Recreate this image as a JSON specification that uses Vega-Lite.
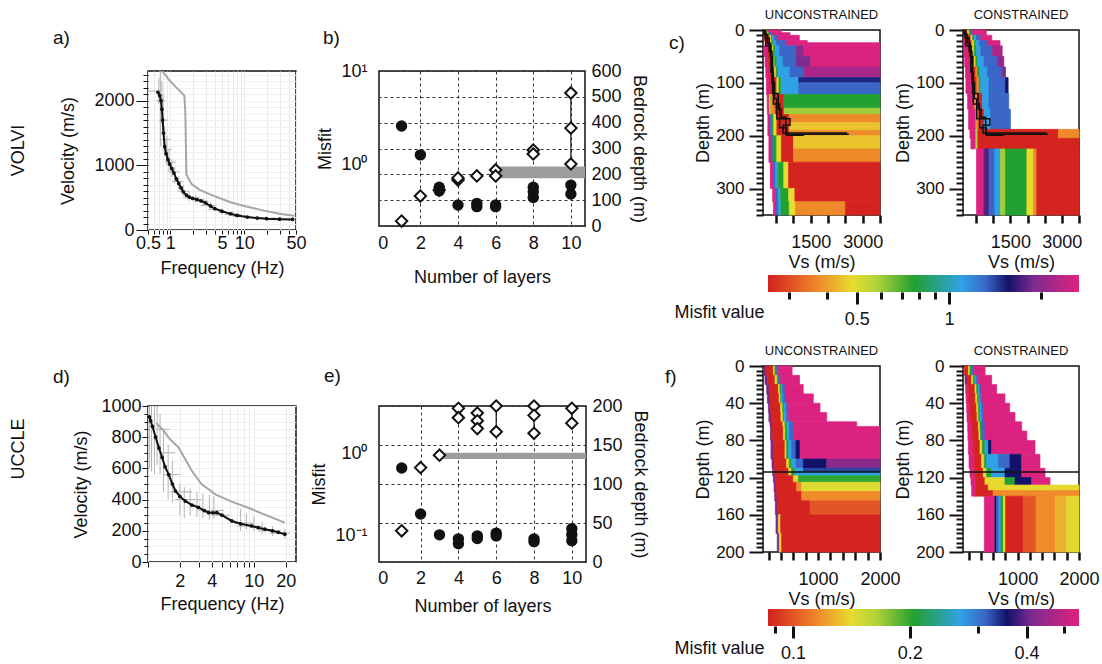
{
"$schema":"https://vega.github.io/schema/vega-lite/v6.json",
"padding":{"left":10,"top":8,"right":0,"bottom":0},
"config":{"font":"Liberation Sans","view":{"stroke":null},
"axis":{"labelFontSize":18,"titleFontSize":18,"titleFontWeight":"normal","labelColor":"#111","titleColor":"#111","tickColor":"#111","domainColor":"#111","labelFlush":false,"labelOverlap":false,"labelBound":false,"grid":false,"tickCount":200},
"title":{"fontSize":19,"fontWeight":"normal","color":"#111"}},
"datasets":{
"aB":[{"f":0.68,"v":2130},{"f":0.72,"v":2080},{"f":0.75,"v":2000},{"f":0.77,"v":1870},{"f":0.79,"v":1700},{"f":0.81,"v":1500},{"f":0.84,"v":1290},{"f":0.88,"v":1180},{"f":0.93,"v":1090},{"f":0.98,"v":1020},{"f":1.05,"v":950},{"f":1.12,"v":880},{"f":1.21,"v":790},{"f":1.3,"v":720},{"f":1.4,"v":650},{"f":1.5,"v":590},{"f":1.65,"v":540},{"f":1.8,"v":510},{"f":2.0,"v":490},{"f":2.3,"v":470},{"f":2.6,"v":450},{"f":3.0,"v":420},{"f":3.5,"v":370},{"f":4.0,"v":330},{"f":5.0,"v":290},{"f":6.5,"v":250},{"f":8.0,"v":225},{"f":11,"v":200},{"f":15,"v":185},{"f":20,"v":175},{"f":30,"v":168},{"f":45,"v":163}],
"aG":[{"f":0.78,"v":2460},{"f":0.98,"v":2310},{"f":1.27,"v":2180},{"f":1.55,"v":2080},{"f":1.6,"v":1790},{"f":1.65,"v":860},{"f":1.94,"v":710},{"f":2.5,"v":620},{"f":3.85,"v":527},{"f":6.5,"v":430},{"f":10,"v":370},{"f":18.6,"v":300},{"f":30,"v":250},{"f":47.6,"v":220}],
"aEV":[{"f":0.7,"lo":1950,"hi":2350},{"f":0.74,"lo":1300,"hi":2460},{"f":0.77,"lo":1650,"hi":2300},{"f":0.8,"lo":1500,"hi":2100},{"f":0.84,"lo":1150,"hi":1600},{"f":0.9,"lo":1000,"hi":1450},{"f":0.96,"lo":900,"hi":1250},{"f":1.05,"lo":820,"hi":1100},{"f":1.15,"lo":720,"hi":980},{"f":1.3,"lo":630,"hi":830},{"f":1.5,"lo":520,"hi":700},{"f":1.8,"lo":450,"hi":600},{"f":2.2,"lo":420,"hi":540},{"f":2.8,"lo":380,"hi":490},{"f":3.5,"lo":320,"hi":430},{"f":5,"lo":260,"hi":330},{"f":7,"lo":220,"hi":290},{"f":10,"lo":180,"hi":230},{"f":15,"lo":160,"hi":215},{"f":25,"lo":150,"hi":200},{"f":40,"lo":140,"hi":190}],
"aEH":[{"v":2150,"lo":0.5,"hi":0.72},{"v":2000,"lo":0.65,"hi":0.86},{"v":1700,"lo":0.7,"hi":0.95},{"v":1400,"lo":0.74,"hi":1.0},{"v":1250,"lo":0.78,"hi":1.05},{"v":1050,"lo":0.85,"hi":1.2},{"v":900,"lo":0.95,"hi":1.35},{"v":750,"lo":1.05,"hi":1.5},{"v":600,"lo":1.25,"hi":1.8},{"v":500,"lo":1.5,"hi":2.5},{"v":450,"lo":2,"hi":3.3},{"v":380,"lo":2.6,"hi":4.2},{"v":320,"lo":3.2,"hi":5},{"v":270,"lo":4.5,"hi":7},{"v":240,"lo":5.5,"hi":9},{"v":210,"lo":7,"hi":12},{"v":190,"lo":10,"hi":18},{"v":175,"lo":14,"hi":25},{"v":165,"lo":20,"hi":40}],
"dB":[{"f":1.03,"v":930},{"f":1.06,"v":905},{"f":1.1,"v":870},{"f":1.18,"v":800},{"f":1.27,"v":730},{"f":1.36,"v":670},{"f":1.45,"v":610},{"f":1.57,"v":560},{"f":1.7,"v":500},{"f":1.82,"v":455},{"f":2.0,"v":420},{"f":2.26,"v":390},{"f":2.6,"v":365},{"f":3.0,"v":350},{"f":3.4,"v":330},{"f":3.73,"v":316},{"f":4.1,"v":315},{"f":4.47,"v":316},{"f":5.0,"v":300},{"f":6.18,"v":263},{"f":7.5,"v":245},{"f":9.5,"v":231},{"f":11,"v":220},{"f":12.7,"v":210},{"f":15,"v":200},{"f":17,"v":190},{"f":19.6,"v":178}],
"dG":[{"f":1.2,"v":890},{"f":1.41,"v":840},{"f":1.6,"v":790},{"f":1.95,"v":733},{"f":2.6,"v":583},{"f":3.2,"v":500},{"f":4.32,"v":434},{"f":6.0,"v":390},{"f":8.84,"v":348},{"f":13,"v":300},{"f":19.6,"v":252}],
"dEV":[{"f":1.03,"lo":600,"hi":1000},{"f":1.08,"lo":580,"hi":1000},{"f":1.15,"lo":560,"hi":1000},{"f":1.22,"lo":620,"hi":1000},{"f":1.3,"lo":560,"hi":950},{"f":1.4,"lo":450,"hi":850},{"f":1.55,"lo":400,"hi":750},{"f":1.7,"lo":380,"hi":650},{"f":2.0,"lo":300,"hi":500},{"f":2.2,"lo":280,"hi":480},{"f":2.5,"lo":300,"hi":470},{"f":2.9,"lo":290,"hi":450},{"f":3.3,"lo":280,"hi":440},{"f":3.8,"lo":270,"hi":430},{"f":4.2,"lo":280,"hi":420},{"f":7.5,"lo":200,"hi":340},{"f":8.5,"lo":210,"hi":310},{"f":10,"lo":200,"hi":290},{"f":12,"lo":180,"hi":260},{"f":15,"lo":165,"hi":230},{"f":19.6,"lo":150,"hi":210}],
"dEH":[{"v":850,"lo":1.2,"hi":1.6},{"v":700,"lo":1.3,"hi":1.8},{"v":560,"lo":1.4,"hi":2.0},{"v":450,"lo":1.6,"hi":2.6},{"v":400,"lo":1.8,"hi":3.2},{"v":330,"lo":3,"hi":5.2},{"v":300,"lo":4,"hi":6},{"v":250,"lo":6.5,"hi":10},{"v":230,"lo":7,"hi":12},{"v":200,"lo":11,"hi":18},{"v":185,"lo":14,"hi":22}],
"bCirc":[{"n":1,"m":2.6},{"n":2,"m":1.28},{"n":3,"m":0.58},{"n":3,"m":0.53},{"n":4,"m":0.375},{"n":5,"m":0.39},{"n":5,"m":0.36},{"n":6,"m":0.375},{"n":6,"m":0.36},{"n":8,"m":0.58},{"n":8,"m":0.52},{"n":8,"m":0.45},{"n":10,"m":0.61},{"n":10,"m":0.49}],
"bDiam":[{"n":1,"z":19},{"n":2,"z":116},{"n":3,"z":139},{"n":4,"z":178},{"n":4,"z":186},{"n":5,"z":194},{"n":6,"z":217},{"n":6,"z":194},{"n":8,"z":294},{"n":8,"z":279},{"n":10,"z":515},{"n":10,"z":379},{"n":10,"z":240}],
"bRule":[{"n":10,"lo":240,"hi":515},{"n":8,"lo":279,"hi":294},{"n":6,"lo":194,"hi":217},{"n":4,"lo":178,"hi":186}],
"bBand":[{"x0":6,"x1":10.75,"z0":185,"z1":230}],
"eCirc":[{"n":1,"m":0.674},{"n":2,"m":0.185},{"n":3,"m":0.103},{"n":4,"m":0.092},{"n":4,"m":0.08},{"n":5,"m":0.1},{"n":5,"m":0.093},{"n":6,"m":0.108},{"n":6,"m":0.1},{"n":8,"m":0.092},{"n":8,"m":0.085},{"n":10,"m":0.122},{"n":10,"m":0.104},{"n":10,"m":0.087}],
"eDiam":[{"n":1,"z":40},{"n":2,"z":121},{"n":3,"z":137},{"n":4,"z":197},{"n":4,"z":185},{"n":5,"z":191},{"n":5,"z":181},{"n":5,"z":171},{"n":6,"z":200},{"n":6,"z":167},{"n":8,"z":200},{"n":8,"z":188},{"n":8,"z":165},{"n":10,"z":197},{"n":10,"z":178}],
"eRule":[{"n":4,"lo":185,"hi":197},{"n":5,"lo":171,"hi":191},{"n":6,"lo":167,"hi":200},{"n":8,"lo":165,"hi":200},{"n":10,"lo":178,"hi":197}],
"eBand":[{"x0":3,"x1":10.75,"z0":132,"z1":140}],
"ref":[{"g":1,"i":0,"v":150,"d":0},{"g":1,"i":1,"v":150,"d":8},{"g":1,"i":2,"v":250,"d":8},{"g":1,"i":3,"v":250,"d":25},{"g":1,"i":4,"v":330,"d":25},{"g":1,"i":5,"v":330,"d":50},{"g":1,"i":6,"v":400,"d":50},{"g":1,"i":7,"v":400,"d":120},{"g":1,"i":8,"v":560,"d":120},{"g":1,"i":9,"v":560,"d":150},{"g":1,"i":10,"v":650,"d":150},{"g":1,"i":11,"v":650,"d":165},{"g":1,"i":12,"v":780,"d":165},{"g":1,"i":13,"v":780,"d":197},{"g":1,"i":14,"v":2600,"d":197},
{"g":2,"i":0,"v":180,"d":0},{"g":2,"i":1,"v":180,"d":15},{"g":2,"i":2,"v":300,"d":15},{"g":2,"i":3,"v":300,"d":40},{"g":2,"i":4,"v":380,"d":40},{"g":2,"i":5,"v":380,"d":100},{"g":2,"i":6,"v":450,"d":100},{"g":2,"i":7,"v":450,"d":130},{"g":2,"i":8,"v":520,"d":130},{"g":2,"i":9,"v":520,"d":168},{"g":2,"i":10,"v":900,"d":168},{"g":2,"i":11,"v":900,"d":180},{"g":2,"i":12,"v":700,"d":180},{"g":2,"i":13,"v":700,"d":195},{"g":2,"i":14,"v":2550,"d":195},
{"g":3,"i":0,"v":200,"d":0},{"g":3,"i":1,"v":200,"d":30},{"g":3,"i":2,"v":350,"d":30},{"g":3,"i":3,"v":350,"d":80},{"g":3,"i":4,"v":420,"d":80},{"g":3,"i":5,"v":420,"d":140},{"g":3,"i":6,"v":600,"d":140},{"g":3,"i":7,"v":600,"d":185},{"g":3,"i":8,"v":800,"d":185},{"g":3,"i":9,"v":800,"d":199},{"g":3,"i":10,"v":1300,"d":199}],
"cU":[
{"v0":130,"v1":200,"d0":0,"d1":5,"m":0.26},{"v0":200,"v1":240,"d0":0,"d1":5,"m":0.486},{"v0":240,"v1":280,"d0":0,"d1":5,"m":0.77},{"v0":280,"v1":650,"d0":0,"d1":5,"m":2.6},
{"v0":140,"v1":230,"d0":5,"d1":10,"m":0.26},{"v0":230,"v1":270,"d0":5,"d1":10,"m":0.486},{"v0":270,"v1":320,"d0":5,"d1":10,"m":0.77},{"v0":320,"v1":380,"d0":5,"d1":10,"m":1.32},{"v0":380,"v1":900,"d0":5,"d1":10,"m":2.6},
{"v0":160,"v1":300,"d0":10,"d1":20,"m":0.26},{"v0":300,"v1":330,"d0":10,"d1":20,"m":0.374},{"v0":330,"v1":360,"d0":10,"d1":20,"m":0.486},{"v0":360,"v1":400,"d0":10,"d1":20,"m":0.77},{"v0":400,"v1":450,"d0":10,"d1":20,"m":1.1},{"v0":450,"v1":550,"d0":10,"d1":20,"m":1.32},{"v0":550,"v1":1170,"d0":10,"d1":20,"m":2.6},
{"v0":180,"v1":330,"d0":20,"d1":30,"m":0.26},{"v0":330,"v1":370,"d0":20,"d1":30,"m":0.486},{"v0":370,"v1":420,"d0":20,"d1":30,"m":0.77},{"v0":420,"v1":500,"d0":20,"d1":30,"m":1.1},{"v0":500,"v1":800,"d0":20,"d1":30,"m":1.32},{"v0":800,"v1":1400,"d0":20,"d1":24,"m":2.6},{"v0":800,"v1":3500,"d0":24,"d1":30,"m":2.6},
{"v0":150,"v1":250,"d0":30,"d1":50,"m":2.6},{"v0":250,"v1":380,"d0":30,"d1":50,"m":0.26},{"v0":380,"v1":420,"d0":30,"d1":50,"m":0.486},{"v0":420,"v1":470,"d0":30,"d1":50,"m":0.77},{"v0":470,"v1":600,"d0":30,"d1":50,"m":1.1},{"v0":600,"v1":1080,"d0":30,"d1":50,"m":1.32},{"v0":1080,"v1":1300,"d0":30,"d1":50,"m":2.0},{"v0":1300,"v1":3500,"d0":30,"d1":50,"m":2.6},
{"v0":180,"v1":280,"d0":50,"d1":70,"m":2.6},{"v0":280,"v1":420,"d0":50,"d1":70,"m":0.26},{"v0":420,"v1":460,"d0":50,"d1":70,"m":0.486},{"v0":460,"v1":520,"d0":50,"d1":70,"m":0.77},{"v0":520,"v1":700,"d0":50,"d1":70,"m":1.1},{"v0":700,"v1":1080,"d0":50,"d1":70,"m":1.32},{"v0":1080,"v1":1500,"d0":50,"d1":70,"m":1.9},{"v0":1500,"v1":3500,"d0":50,"d1":70,"m":2.6},
{"v0":200,"v1":300,"d0":70,"d1":90,"m":2.6},{"v0":300,"v1":450,"d0":70,"d1":90,"m":0.26},{"v0":450,"v1":500,"d0":70,"d1":90,"m":0.486},{"v0":500,"v1":560,"d0":70,"d1":90,"m":0.77},{"v0":560,"v1":900,"d0":70,"d1":90,"m":1.1},{"v0":900,"v1":1300,"d0":70,"d1":90,"m":1.32},{"v0":1300,"v1":3500,"d0":70,"d1":90,"m":2.2},
{"v0":220,"v1":330,"d0":90,"d1":122,"m":2.6},{"v0":330,"v1":520,"d0":90,"d1":122,"m":0.26},{"v0":520,"v1":580,"d0":90,"d1":122,"m":0.486},{"v0":580,"v1":650,"d0":90,"d1":122,"m":0.77},{"v0":650,"v1":1150,"d0":90,"d1":122,"m":1.1},{"v0":1150,"v1":3500,"d0":90,"d1":100,"m":1.5},{"v0":1150,"v1":3500,"d0":100,"d1":122,"m":1.32},
{"v0":240,"v1":300,"d0":122,"d1":148,"m":2.6},{"v0":300,"v1":350,"d0":122,"d1":148,"m":0.583},{"v0":350,"v1":460,"d0":122,"d1":148,"m":0.374},{"v0":460,"v1":720,"d0":122,"d1":148,"m":0.26},{"v0":720,"v1":3500,"d0":122,"d1":148,"m":0.77},
{"v0":245,"v1":305,"d0":148,"d1":160,"m":2.6},{"v0":305,"v1":355,"d0":148,"d1":160,"m":0.583},{"v0":355,"v1":470,"d0":148,"d1":160,"m":0.374},{"v0":470,"v1":730,"d0":148,"d1":160,"m":0.26},{"v0":730,"v1":3500,"d0":148,"d1":160,"m":0.6},
{"v0":260,"v1":330,"d0":160,"d1":200,"m":2.6},{"v0":330,"v1":370,"d0":160,"d1":200,"m":1.32},{"v0":370,"v1":430,"d0":160,"d1":200,"m":0.77},{"v0":430,"v1":520,"d0":160,"d1":200,"m":0.486},{"v0":520,"v1":880,"d0":160,"d1":200,"m":0.26},{"v0":880,"v1":3500,"d0":160,"d1":175,"m":0.374},{"v0":880,"v1":3500,"d0":175,"d1":190,"m":0.45},{"v0":880,"v1":3500,"d0":190,"d1":200,"m":0.374},
{"v0":290,"v1":360,"d0":200,"d1":250,"m":2.6},{"v0":360,"v1":410,"d0":200,"d1":250,"m":1.32},{"v0":410,"v1":520,"d0":200,"d1":250,"m":0.77},{"v0":520,"v1":650,"d0":200,"d1":250,"m":0.486},{"v0":650,"v1":1000,"d0":200,"d1":250,"m":0.26},{"v0":1000,"v1":3500,"d0":200,"d1":225,"m":0.45},{"v0":1000,"v1":3500,"d0":225,"d1":250,"m":0.374},
{"v0":330,"v1":420,"d0":250,"d1":300,"m":2.6},{"v0":420,"v1":480,"d0":250,"d1":300,"m":1.32},{"v0":480,"v1":560,"d0":250,"d1":300,"m":1.1},{"v0":560,"v1":720,"d0":250,"d1":300,"m":0.77},{"v0":720,"v1":860,"d0":250,"d1":300,"m":0.486},{"v0":860,"v1":3500,"d0":250,"d1":300,"m":0.26},
{"v0":400,"v1":490,"d0":300,"d1":325,"m":2.6},{"v0":490,"v1":560,"d0":300,"d1":325,"m":1.32},{"v0":560,"v1":630,"d0":300,"d1":325,"m":1.1},{"v0":630,"v1":860,"d0":300,"d1":325,"m":0.77},{"v0":860,"v1":1040,"d0":300,"d1":325,"m":0.486},{"v0":1040,"v1":3500,"d0":300,"d1":325,"m":0.26},
{"v0":420,"v1":510,"d0":325,"d1":350,"m":2.6},{"v0":510,"v1":570,"d0":325,"d1":350,"m":1.32},{"v0":570,"v1":640,"d0":325,"d1":350,"m":1.1},{"v0":640,"v1":880,"d0":325,"d1":350,"m":0.77},{"v0":880,"v1":1060,"d0":325,"d1":350,"m":0.486},{"v0":1060,"v1":2500,"d0":325,"d1":350,"m":0.374},{"v0":2500,"v1":3500,"d0":325,"d1":350,"m":0.26}],
"cC":[
{"v0":130,"v1":254,"d0":0,"d1":10,"m":0.26},{"v0":254,"v1":302,"d0":0,"d1":10,"m":0.486},{"v0":302,"v1":350,"d0":0,"d1":10,"m":0.77},{"v0":350,"v1":398,"d0":0,"d1":10,"m":1.32},{"v0":398,"v1":800,"d0":0,"d1":10,"m":2.6},
{"v0":160,"v1":350,"d0":10,"d1":20,"m":0.26},{"v0":350,"v1":398,"d0":10,"d1":20,"m":0.486},{"v0":398,"v1":446,"d0":10,"d1":20,"m":0.77},{"v0":446,"v1":514,"d0":10,"d1":20,"m":1.1},{"v0":514,"v1":638,"d0":10,"d1":20,"m":1.32},{"v0":638,"v1":960,"d0":10,"d1":20,"m":2.6},
{"v0":130,"v1":206,"d0":20,"d1":30,"m":2.6},{"v0":206,"v1":379,"d0":20,"d1":30,"m":0.26},{"v0":379,"v1":446,"d0":20,"d1":30,"m":0.486},{"v0":446,"v1":494,"d0":20,"d1":30,"m":0.77},{"v0":494,"v1":590,"d0":20,"d1":30,"m":1.1},{"v0":590,"v1":830,"d0":20,"d1":30,"m":1.32},{"v0":830,"v1":1200,"d0":20,"d1":30,"m":2.6},
{"v0":150,"v1":254,"d0":30,"d1":50,"m":2.6},{"v0":254,"v1":398,"d0":30,"d1":50,"m":0.26},{"v0":398,"v1":446,"d0":30,"d1":50,"m":0.486},{"v0":446,"v1":514,"d0":30,"d1":50,"m":0.77},{"v0":514,"v1":638,"d0":30,"d1":50,"m":1.1},{"v0":638,"v1":974,"d0":30,"d1":50,"m":1.32},{"v0":974,"v1":1262,"d0":30,"d1":50,"m":2.2},
{"v0":170,"v1":302,"d0":50,"d1":70,"m":2.6},{"v0":302,"v1":446,"d0":50,"d1":70,"m":0.26},{"v0":446,"v1":494,"d0":50,"d1":70,"m":0.486},{"v0":494,"v1":552,"d0":50,"d1":70,"m":0.77},{"v0":552,"v1":734,"d0":50,"d1":70,"m":1.1},{"v0":734,"v1":1118,"d0":50,"d1":70,"m":1.32},{"v0":1118,"v1":1310,"d0":50,"d1":70,"m":2.0},
{"v0":190,"v1":350,"d0":70,"d1":90,"m":2.6},{"v0":350,"v1":494,"d0":70,"d1":90,"m":0.26},{"v0":494,"v1":542,"d0":70,"d1":90,"m":0.374},{"v0":542,"v1":610,"d0":70,"d1":90,"m":0.77},{"v0":610,"v1":830,"d0":70,"d1":90,"m":1.1},{"v0":830,"v1":1262,"d0":70,"d1":90,"m":1.32},{"v0":1262,"v1":1358,"d0":70,"d1":90,"m":1.9},
{"v0":206,"v1":398,"d0":90,"d1":120,"m":2.6},{"v0":398,"v1":523,"d0":90,"d1":120,"m":0.26},{"v0":523,"v1":590,"d0":90,"d1":120,"m":0.374},{"v0":590,"v1":638,"d0":90,"d1":120,"m":0.77},{"v0":638,"v1":878,"d0":90,"d1":120,"m":1.1},{"v0":878,"v1":1358,"d0":90,"d1":120,"m":1.32},{"v0":1358,"v1":1435,"d0":90,"d1":120,"m":1.56},
{"v0":254,"v1":446,"d0":120,"d1":150,"m":2.6},{"v0":446,"v1":542,"d0":120,"d1":150,"m":0.374},{"v0":542,"v1":686,"d0":120,"d1":150,"m":0.26},{"v0":686,"v1":878,"d0":120,"d1":150,"m":1.1},{"v0":878,"v1":1454,"d0":120,"d1":150,"m":1.32},
{"v0":283,"v1":494,"d0":150,"d1":188,"m":2.6},{"v0":494,"v1":590,"d0":150,"d1":188,"m":0.374},{"v0":590,"v1":734,"d0":150,"d1":188,"m":0.26},{"v0":734,"v1":926,"d0":150,"d1":188,"m":1.1},{"v0":926,"v1":1502,"d0":150,"d1":188,"m":1.32},
{"v0":322,"v1":494,"d0":188,"d1":205,"m":2.6},{"v0":494,"v1":552,"d0":188,"d1":205,"m":0.583},{"v0":552,"v1":2900,"d0":188,"d1":205,"m":0.26},{"v0":2900,"v1":3500,"d0":188,"d1":205,"m":0.374},
{"v0":350,"v1":494,"d0":205,"d1":225,"m":2.6},{"v0":494,"v1":552,"d0":205,"d1":225,"m":0.583},{"v0":552,"v1":3500,"d0":205,"d1":225,"m":0.26},
{"v0":514,"v1":734,"d0":225,"d1":350,"m":2.6},{"v0":734,"v1":878,"d0":225,"d1":350,"m":1.75},{"v0":878,"v1":1050,"d0":225,"d1":350,"m":1.32},{"v0":1050,"v1":1214,"d0":225,"d1":350,"m":1.1},{"v0":1214,"v1":1358,"d0":225,"d1":350,"m":0.6},{"v0":1358,"v1":1982,"d0":225,"d1":350,"m":0.77},{"v0":1982,"v1":2174,"d0":225,"d1":350,"m":0.486},{"v0":2174,"v1":2270,"d0":225,"d1":350,"m":0.374},{"v0":2270,"v1":3500,"d0":225,"d1":350,"m":0.26}],
"fU":[
{"v0":126,"v1":158,"d0":0,"d1":10,"m":0.41},{"v0":158,"v1":277,"d0":0,"d1":10,"m":0.087},{"v0":277,"v1":304,"d0":0,"d1":10,"m":0.14},{"v0":304,"v1":331,"d0":0,"d1":10,"m":0.205},{"v0":331,"v1":358,"d0":0,"d1":10,"m":0.31},{"v0":358,"v1":580,"d0":0,"d1":10,"m":0.54},
{"v0":142,"v1":180,"d0":10,"d1":20,"m":0.41},{"v0":180,"v1":304,"d0":10,"d1":20,"m":0.087},{"v0":304,"v1":342,"d0":10,"d1":20,"m":0.14},{"v0":342,"v1":363,"d0":10,"d1":20,"m":0.205},{"v0":363,"v1":395,"d0":10,"d1":20,"m":0.31},{"v0":395,"v1":700,"d0":10,"d1":20,"m":0.54},
{"v0":169,"v1":212,"d0":20,"d1":30,"m":0.41},{"v0":212,"v1":358,"d0":20,"d1":30,"m":0.087},{"v0":358,"v1":385,"d0":20,"d1":30,"m":0.14},{"v0":385,"v1":406,"d0":20,"d1":30,"m":0.205},{"v0":406,"v1":428,"d0":20,"d1":30,"m":0.27},{"v0":428,"v1":465,"d0":20,"d1":30,"m":0.31},{"v0":465,"v1":760,"d0":20,"d1":30,"m":0.54},
{"v0":180,"v1":223,"d0":30,"d1":40,"m":0.41},{"v0":223,"v1":370,"d0":30,"d1":40,"m":0.087},{"v0":370,"v1":395,"d0":30,"d1":40,"m":0.14},{"v0":395,"v1":412,"d0":30,"d1":40,"m":0.205},{"v0":412,"v1":438,"d0":30,"d1":40,"m":0.27},{"v0":438,"v1":475,"d0":30,"d1":40,"m":0.31},{"v0":475,"v1":923,"d0":30,"d1":40,"m":0.54},
{"v0":196,"v1":234,"d0":40,"d1":50,"m":0.41},{"v0":234,"v1":395,"d0":40,"d1":50,"m":0.087},{"v0":395,"v1":428,"d0":40,"d1":50,"m":0.14},{"v0":428,"v1":449,"d0":40,"d1":50,"m":0.205},{"v0":449,"v1":482,"d0":40,"d1":50,"m":0.27},{"v0":482,"v1":519,"d0":40,"d1":50,"m":0.31},{"v0":519,"v1":1031,"d0":40,"d1":50,"m":0.54},
{"v0":205,"v1":240,"d0":50,"d1":60,"m":0.41},{"v0":240,"v1":400,"d0":50,"d1":60,"m":0.087},{"v0":400,"v1":435,"d0":50,"d1":60,"m":0.14},{"v0":435,"v1":455,"d0":50,"d1":60,"m":0.205},{"v0":455,"v1":490,"d0":50,"d1":60,"m":0.27},{"v0":490,"v1":525,"d0":50,"d1":60,"m":0.31},{"v0":525,"v1":1139,"d0":50,"d1":60,"m":0.54},
{"v0":223,"v1":255,"d0":60,"d1":65,"m":0.41},{"v0":255,"v1":428,"d0":60,"d1":65,"m":0.087},{"v0":428,"v1":465,"d0":60,"d1":65,"m":0.14},{"v0":465,"v1":492,"d0":60,"d1":65,"m":0.205},{"v0":492,"v1":535,"d0":60,"d1":65,"m":0.27},{"v0":535,"v1":600,"d0":60,"d1":65,"m":0.31},{"v0":600,"v1":1623,"d0":60,"d1":65,"m":0.54},
{"v0":230,"v1":260,"d0":65,"d1":80,"m":0.41},{"v0":260,"v1":438,"d0":65,"d1":80,"m":0.087},{"v0":438,"v1":470,"d0":65,"d1":80,"m":0.14},{"v0":470,"v1":500,"d0":65,"d1":80,"m":0.205},{"v0":500,"v1":540,"d0":65,"d1":80,"m":0.27},{"v0":540,"v1":600,"d0":65,"d1":80,"m":0.31},{"v0":600,"v1":2000,"d0":65,"d1":80,"m":0.54},
{"v0":239,"v1":277,"d0":80,"d1":100,"m":0.41},{"v0":277,"v1":465,"d0":80,"d1":100,"m":0.087},{"v0":465,"v1":492,"d0":80,"d1":100,"m":0.14},{"v0":492,"v1":525,"d0":80,"d1":100,"m":0.205},{"v0":525,"v1":573,"d0":80,"d1":100,"m":0.27},{"v0":573,"v1":643,"d0":80,"d1":100,"m":0.31},{"v0":643,"v1":708,"d0":80,"d1":100,"m":0.356},{"v0":708,"v1":2000,"d0":80,"d1":100,"m":0.54},
{"v0":255,"v1":288,"d0":100,"d1":110,"m":0.41},{"v0":288,"v1":492,"d0":100,"d1":110,"m":0.087},{"v0":492,"v1":535,"d0":100,"d1":110,"m":0.14},{"v0":535,"v1":573,"d0":100,"d1":110,"m":0.205},{"v0":573,"v1":643,"d0":100,"d1":110,"m":0.27},{"v0":643,"v1":762,"d0":100,"d1":110,"m":0.31},{"v0":762,"v1":1139,"d0":100,"d1":110,"m":0.356},{"v0":1139,"v1":2000,"d0":100,"d1":110,"m":0.43},
{"v0":266,"v1":299,"d0":110,"d1":118,"m":0.41},{"v0":299,"v1":525,"d0":110,"d1":118,"m":0.087},{"v0":525,"v1":573,"d0":110,"d1":118,"m":0.14},{"v0":573,"v1":627,"d0":110,"d1":118,"m":0.205},{"v0":627,"v1":762,"d0":110,"d1":118,"m":0.27},{"v0":762,"v1":2000,"d0":110,"d1":114,"m":0.33},{"v0":762,"v1":2000,"d0":114,"d1":118,"m":0.27},
{"v0":277,"v1":309,"d0":118,"d1":125,"m":0.41},{"v0":309,"v1":600,"d0":118,"d1":125,"m":0.087},{"v0":600,"v1":681,"d0":118,"d1":125,"m":0.14},{"v0":681,"v1":2000,"d0":118,"d1":125,"m":0.2},
{"v0":288,"v1":320,"d0":125,"d1":135,"m":0.41},{"v0":320,"v1":654,"d0":125,"d1":135,"m":0.087},{"v0":654,"v1":735,"d0":125,"d1":135,"m":0.116},{"v0":735,"v1":2000,"d0":125,"d1":135,"m":0.145},
{"v0":299,"v1":331,"d0":135,"d1":145,"m":0.41},{"v0":331,"v1":735,"d0":135,"d1":145,"m":0.087},{"v0":735,"v1":2000,"d0":135,"d1":145,"m":0.116},
{"v0":309,"v1":342,"d0":145,"d1":160,"m":0.41},{"v0":342,"v1":869,"d0":145,"d1":160,"m":0.087},{"v0":869,"v1":2000,"d0":145,"d1":160,"m":0.1},
{"v0":320,"v1":358,"d0":160,"d1":180,"m":0.41},{"v0":358,"v1":395,"d0":160,"d1":180,"m":0.14},{"v0":395,"v1":2000,"d0":160,"d1":180,"m":0.087},
{"v0":340,"v1":375,"d0":180,"d1":200,"m":0.41},{"v0":375,"v1":412,"d0":180,"d1":200,"m":0.14},{"v0":412,"v1":2000,"d0":180,"d1":200,"m":0.087}],
"fC":[
{"v0":132,"v1":197,"d0":0,"d1":10,"m":0.087},{"v0":197,"v1":224,"d0":0,"d1":10,"m":0.14},{"v0":224,"v1":251,"d0":0,"d1":10,"m":0.205},{"v0":251,"v1":284,"d0":0,"d1":10,"m":0.31},{"v0":284,"v1":470,"d0":0,"d1":10,"m":0.54},
{"v0":143,"v1":175,"d0":10,"d1":20,"m":0.41},{"v0":175,"v1":251,"d0":10,"d1":20,"m":0.087},{"v0":251,"v1":278,"d0":10,"d1":20,"m":0.14},{"v0":278,"v1":305,"d0":10,"d1":20,"m":0.205},{"v0":305,"v1":327,"d0":10,"d1":20,"m":0.27},{"v0":327,"v1":360,"d0":10,"d1":20,"m":0.31},{"v0":360,"v1":577,"d0":10,"d1":20,"m":0.54},
{"v0":153,"v1":197,"d0":20,"d1":30,"m":0.54},{"v0":197,"v1":305,"d0":20,"d1":30,"m":0.087},{"v0":305,"v1":333,"d0":20,"d1":30,"m":0.14},{"v0":333,"v1":360,"d0":20,"d1":30,"m":0.205},{"v0":360,"v1":381,"d0":20,"d1":30,"m":0.27},{"v0":381,"v1":403,"d0":20,"d1":30,"m":0.31},{"v0":403,"v1":658,"d0":20,"d1":30,"m":0.54},
{"v0":160,"v1":208,"d0":30,"d1":40,"m":0.54},{"v0":208,"v1":316,"d0":30,"d1":40,"m":0.087},{"v0":316,"v1":345,"d0":30,"d1":40,"m":0.14},{"v0":345,"v1":370,"d0":30,"d1":40,"m":0.205},{"v0":370,"v1":392,"d0":30,"d1":40,"m":0.27},{"v0":392,"v1":414,"d0":30,"d1":40,"m":0.31},{"v0":414,"v1":794,"d0":30,"d1":40,"m":0.54},
{"v0":170,"v1":224,"d0":40,"d1":50,"m":0.54},{"v0":224,"v1":333,"d0":40,"d1":50,"m":0.087},{"v0":333,"v1":360,"d0":40,"d1":50,"m":0.14},{"v0":360,"v1":387,"d0":40,"d1":50,"m":0.205},{"v0":387,"v1":414,"d0":40,"d1":50,"m":0.27},{"v0":414,"v1":441,"d0":40,"d1":50,"m":0.31},{"v0":441,"v1":870,"d0":40,"d1":50,"m":0.54},
{"v0":175,"v1":230,"d0":50,"d1":60,"m":0.54},{"v0":230,"v1":340,"d0":50,"d1":60,"m":0.087},{"v0":340,"v1":365,"d0":50,"d1":60,"m":0.14},{"v0":365,"v1":390,"d0":50,"d1":60,"m":0.205},{"v0":390,"v1":418,"d0":50,"d1":60,"m":0.27},{"v0":418,"v1":445,"d0":50,"d1":60,"m":0.31},{"v0":445,"v1":957,"d0":50,"d1":60,"m":0.54},
{"v0":186,"v1":251,"d0":60,"d1":70,"m":0.54},{"v0":251,"v1":360,"d0":60,"d1":70,"m":0.087},{"v0":360,"v1":387,"d0":60,"d1":70,"m":0.14},{"v0":387,"v1":414,"d0":60,"d1":70,"m":0.205},{"v0":414,"v1":468,"d0":60,"d1":70,"m":0.31},{"v0":468,"v1":1066,"d0":60,"d1":70,"m":0.54},
{"v0":190,"v1":260,"d0":70,"d1":80,"m":0.54},{"v0":260,"v1":370,"d0":70,"d1":80,"m":0.087},{"v0":370,"v1":395,"d0":70,"d1":80,"m":0.14},{"v0":395,"v1":420,"d0":70,"d1":80,"m":0.205},{"v0":420,"v1":470,"d0":70,"d1":80,"m":0.31},{"v0":470,"v1":1150,"d0":70,"d1":80,"m":0.54},
{"v0":197,"v1":278,"d0":80,"d1":95,"m":0.54},{"v0":278,"v1":387,"d0":80,"d1":95,"m":0.087},{"v0":387,"v1":425,"d0":80,"d1":95,"m":0.14},{"v0":425,"v1":468,"d0":80,"d1":95,"m":0.205},{"v0":468,"v1":523,"d0":80,"d1":95,"m":0.27},{"v0":523,"v1":577,"d0":80,"d1":95,"m":0.356},{"v0":577,"v1":1283,"d0":80,"d1":95,"m":0.54},
{"v0":208,"v1":295,"d0":95,"d1":110,"m":0.54},{"v0":295,"v1":414,"d0":95,"d1":110,"m":0.087},{"v0":414,"v1":458,"d0":95,"d1":110,"m":0.14},{"v0":458,"v1":496,"d0":95,"d1":110,"m":0.205},{"v0":496,"v1":686,"d0":95,"d1":110,"m":0.27},{"v0":686,"v1":876,"d0":95,"d1":110,"m":0.31},{"v0":876,"v1":1066,"d0":95,"d1":110,"m":0.356},{"v0":1066,"v1":1364,"d0":95,"d1":110,"m":0.54},
{"v0":224,"v1":305,"d0":110,"d1":120,"m":0.54},{"v0":305,"v1":441,"d0":110,"d1":120,"m":0.087},{"v0":441,"v1":496,"d0":110,"d1":120,"m":0.14},{"v0":496,"v1":577,"d0":110,"d1":120,"m":0.205},{"v0":577,"v1":794,"d0":110,"d1":120,"m":0.27},{"v0":794,"v1":1066,"d0":110,"d1":120,"m":0.356},{"v0":1066,"v1":1446,"d0":110,"d1":120,"m":0.54},
{"v0":240,"v1":316,"d0":120,"d1":128,"m":0.54},{"v0":316,"v1":468,"d0":120,"d1":128,"m":0.087},{"v0":468,"v1":794,"d0":120,"d1":128,"m":0.14},{"v0":794,"v1":957,"d0":120,"d1":128,"m":0.205},{"v0":957,"v1":1229,"d0":120,"d1":128,"m":0.356},{"v0":1229,"v1":1527,"d0":120,"d1":128,"m":0.54},
{"v0":251,"v1":316,"d0":128,"d1":134,"m":0.54},{"v0":316,"v1":523,"d0":128,"d1":134,"m":0.087},{"v0":523,"v1":2000,"d0":128,"d1":134,"m":0.14},
{"v0":251,"v1":316,"d0":134,"d1":140,"m":0.54},{"v0":316,"v1":600,"d0":134,"d1":140,"m":0.087},{"v0":600,"v1":2000,"d0":134,"d1":140,"m":0.116},
{"v0":458,"v1":631,"d0":140,"d1":200,"m":0.54},{"v0":631,"v1":658,"d0":140,"d1":200,"m":0.356},{"v0":658,"v1":696,"d0":140,"d1":200,"m":0.31},{"v0":696,"v1":729,"d0":140,"d1":200,"m":0.27},{"v0":729,"v1":767,"d0":140,"d1":200,"m":0.205},{"v0":767,"v1":805,"d0":140,"d1":200,"m":0.14},{"v0":805,"v1":1093,"d0":140,"d1":200,"m":0.087},{"v0":1093,"v1":1300,"d0":140,"d1":200,"m":0.1},{"v0":1300,"v1":1609,"d0":140,"d1":200,"m":0.116},{"v0":1609,"v1":1800,"d0":140,"d1":200,"m":0.128},{"v0":1800,"v1":2000,"d0":140,"d1":200,"m":0.14}]
},
"hconcat":[
{"concat":[
{"width":1,"height":63,"data":{"values":[]},"mark":"point"},
{"width":148,"height":63,"data":{"values":[]},"mark":"point","title":{"text":"a)","anchor":"start","frame":"group","dx":-95,"dy":55,"offset":0,"baseline":"alphabetic"}},
{"width":83,"height":1,"data":{"values":[]},"mark":"point"},
{"width":206,"height":63,"data":{"values":[]},"mark":"point","title":{"text":"b)","anchor":"start","frame":"group","dx":-56,"dy":55,"offset":0,"baseline":"alphabetic"}},
{"width":1,"height":159,"data":{"values":[]},"mark":"point","title":{"text":"VOLVI","orient":"left","offset":119,"fontSize":18,"dx":0}},
{"width":148,"height":159,"view":{"stroke":"#111","strokeWidth":1.5},
 "layer":[
  {"data":{"name":"aEV"},"mark":{"type":"rule","color":"#b4b4b4","strokeWidth":1,"clip":true},"encoding":{
   "x":{"field":"f","type":"quantitative","scale":{"type":"log","domain":[0.5,50],"nice":false},"axis":{"title":"Frequency (Hz)","values":[0.5,0.6,0.7,0.8,0.9,1,2,3,4,5,6,7,8,9,10,20,30,40,50],"labelExpr":"indexof([0.5,1,5,10,50],datum.value)>=0?datum.label:''","format":"~g","tickCount":200,"labelOverlap":false,"grid":true,"gridColor":"#e8e8e8","domain":false,"tickSize":4,"labelPadding":0,"titlePadding":7}},
   "y":{"field":"lo","type":"quantitative","scale":{"domain":[0,2460],"nice":false,"zero":false},"axis":{"title":"Velocity (m/s)","values":[0,100,200,300,400,500,600,700,800,900,1000,1100,1200,1300,1400,1500,1600,1700,1800,1900,2000,2100,2200,2300,2400],"labelExpr":"datum.value%1000==0?datum.label:''","format":"d","tickCount":200,"labelOverlap":false,"grid":true,"gridColor":"#f0f0f0","domain":false,"tickSize":{"condition":{"test":"datum.value%1000==0","value":12},"value":5},"labelPadding":2,"titlePadding":16}},
   "y2":{"field":"hi"}}},
  {"data":{"name":"aEH"},"mark":{"type":"rule","color":"#b4b4b4","strokeWidth":1,"clip":true},"encoding":{"x":{"field":"lo","type":"quantitative"},"x2":{"field":"hi"},"y":{"field":"v","type":"quantitative"}}},
  {"data":{"name":"aG"},"mark":{"type":"line","color":"#a6a6a6","strokeWidth":2,"clip":true},"encoding":{"x":{"field":"f","type":"quantitative"},"y":{"field":"v","type":"quantitative"}}},
  {"data":{"name":"aB"},"mark":{"type":"line","color":"#111","strokeWidth":2,"point":{"filled":true,"color":"#111","size":14}},"encoding":{"x":{"field":"f","type":"quantitative"},"y":{"field":"v","type":"quantitative"}}}
 ]},
{"width":83,"height":1,"data":{"values":[]},"mark":"point"},
{"width":206,"height":155,"view":{"stroke":"#111","strokeWidth":1.5},
 "layer":[
  {"layer":[
   {"data":{"name":"bBand"},"mark":{"type":"rect","color":"#9c9c9c"},"encoding":{
    "x":{"field":"x0","type":"quantitative","scale":{"domain":[-0.2,10.75],"nice":false,"zero":false},"axis":{"title":"Number of layers","values":[0,2,4,6,8,10],"format":"d","tickCount":200,"labelOverlap":false,"grid":true,"gridDash":[3,3],"gridColor":"#333","gridOpacity":{"condition":{"test":"datum.value==0","value":0},"value":1},"ticks":false,"domain":false,"labelPadding":8,"titlePadding":16}},
    "x2":{"field":"x1"},
    "y":{"field":"z0","type":"quantitative","scale":{"domain":[0,600],"nice":false,"zero":false},"axis":{"title":"Bedrock depth (m)","orient":"right","values":[0,100,200,300,400,500,600],"format":"d","tickCount":200,"labelOverlap":false,"grid":true,"gridDash":[3,3],"gridColor":"#333","ticks":false,"domain":false,"labelPadding":6,"titlePadding":8}},
    "y2":{"field":"z1"}}},
   {"data":{"name":"bRule"},"mark":{"type":"rule","color":"#111","strokeWidth":1.2},"encoding":{"x":{"field":"n","type":"quantitative"},"y":{"field":"lo","type":"quantitative"},"y2":{"field":"hi"}}},
   {"data":{"name":"bDiam"},"mark":{"type":"point","shape":"diamond","filled":true,"fill":"#ffffff","stroke":"#111","strokeWidth":2,"size":130,"opacity":1},"encoding":{"x":{"field":"n","type":"quantitative"},"y":{"field":"z","type":"quantitative"}}}
  ]},
  {"data":{"name":"bCirc"},"mark":{"type":"circle","color":"#111","size":130,"opacity":1},"encoding":{"x":{"field":"n","type":"quantitative"},"y":{"field":"m","type":"quantitative","scale":{"type":"log","domain":[0.224,10],"nice":false},"axis":{"title":"Misfit","orient":"left","values":[1,10],"labelExpr":"datum.value==10?'10¹':'10⁰'","tickCount":200,"labelOverlap":false,"ticks":false,"domain":false,"grid":false,"labelPadding":12,"titlePadding":6}}}}
 ],
 "resolve":{"scale":{"y":"independent"}}},
{"width":1,"height":176,"data":{"values":[]},"mark":"point"},
{"width":148,"height":176,"data":{"values":[]},"mark":"point","title":{"text":"d)","anchor":"start","frame":"group","dx":-95,"dy":172,"offset":0,"baseline":"alphabetic"}},
{"width":82,"height":1,"data":{"values":[]},"mark":"point"},
{"width":207,"height":176,"data":{"values":[]},"mark":"point","title":{"text":"e)","anchor":"start","frame":"group","dx":-55,"dy":171,"offset":0,"baseline":"alphabetic"}},
{"width":1,"height":156,"data":{"values":[]},"mark":"point","title":{"text":"UCCLE","orient":"left","offset":119,"fontSize":18,"dx":35}},
{"width":148,"height":156,"view":{"stroke":"#111","strokeWidth":1.5},
 "layer":[
  {"data":{"name":"dEV"},"mark":{"type":"rule","color":"#b4b4b4","strokeWidth":1,"clip":true},"encoding":{
   "x":{"field":"f","type":"quantitative","scale":{"type":"log","domain":[1,25],"nice":false},"axis":{"title":"Frequency (Hz)","values":[1,2,3,4,5,6,7,8,9,10,20],"labelExpr":"indexof([2,4,10,20],datum.value)>=0?datum.label:''","format":"~g","tickCount":200,"labelOverlap":false,"grid":true,"gridColor":"#e8e8e8","domain":false,"tickSize":5,"labelPadding":5,"titlePadding":5}},
   "y":{"field":"lo","type":"quantitative","scale":{"domain":[0,1000],"nice":false,"zero":false},"axis":{"title":"Velocity (m/s)","values":[0,50,100,150,200,250,300,350,400,450,500,550,600,650,700,750,800,850,900,950,1000],"labelExpr":"datum.value%200==0?datum.label:''","format":"d","tickCount":200,"labelOverlap":false,"grid":true,"gridColor":"#f0f0f0","domain":false,"tickSize":{"condition":{"test":"datum.value%200==0","value":6},"value":4},"labelPadding":1,"titlePadding":10}},
   "y2":{"field":"hi"}}},
  {"data":{"name":"dEH"},"mark":{"type":"rule","color":"#b4b4b4","strokeWidth":1,"clip":true},"encoding":{"x":{"field":"lo","type":"quantitative"},"x2":{"field":"hi"},"y":{"field":"v","type":"quantitative"}}},
  {"data":{"name":"dG"},"mark":{"type":"line","color":"#a6a6a6","strokeWidth":2,"clip":true},"encoding":{"x":{"field":"f","type":"quantitative"},"y":{"field":"v","type":"quantitative"}}},
  {"data":{"name":"dB"},"mark":{"type":"line","color":"#111","strokeWidth":2,"point":{"filled":true,"color":"#111","size":14}},"encoding":{"x":{"field":"f","type":"quantitative"},"y":{"field":"v","type":"quantitative"}}}
 ]},
{"width":82,"height":1,"data":{"values":[]},"mark":"point"},
{"width":207,"height":156,"view":{"stroke":"#111","strokeWidth":1.5},
 "layer":[
  {"layer":[
   {"data":{"name":"eBand"},"mark":{"type":"rect","color":"#9c9c9c"},"encoding":{
    "x":{"field":"x0","type":"quantitative","scale":{"domain":[-0.2,10.75],"nice":false,"zero":false},"axis":{"title":"Number of layers","values":[0,2,4,6,8,10],"format":"d","tickCount":200,"labelOverlap":false,"grid":true,"gridDash":[3,3],"gridColor":"#333","gridOpacity":{"condition":{"test":"datum.value==0","value":0},"value":1},"ticks":false,"domain":false,"labelPadding":7,"titlePadding":10}},
    "x2":{"field":"x1"},
    "y":{"field":"z0","type":"quantitative","scale":{"domain":[0,200],"nice":false,"zero":false},"axis":{"title":"Bedrock depth (m)","orient":"right","values":[0,50,100,150,200],"format":"d","tickCount":200,"labelOverlap":false,"grid":true,"gridDash":[3,3],"gridColor":"#333","ticks":false,"domain":false,"labelPadding":6,"titlePadding":8}},
    "y2":{"field":"z1"}}},
   {"data":{"name":"eRule"},"mark":{"type":"rule","color":"#111","strokeWidth":1.2},"encoding":{"x":{"field":"n","type":"quantitative"},"y":{"field":"lo","type":"quantitative"},"y2":{"field":"hi"}}},
   {"data":{"name":"eDiam"},"mark":{"type":"point","shape":"diamond","filled":true,"fill":"#ffffff","stroke":"#111","strokeWidth":2,"size":130,"opacity":1},"encoding":{"x":{"field":"n","type":"quantitative"},"y":{"field":"z","type":"quantitative"}}}
  ]},
  {"data":{"name":"eCirc"},"mark":{"type":"circle","color":"#111","size":130,"opacity":1},"encoding":{"x":{"field":"n","type":"quantitative"},"y":{"field":"m","type":"quantitative","scale":{"type":"log","domain":[0.048,3.85],"nice":false},"axis":{"title":"Misfit","orient":"left","values":[0.1,1],"labelExpr":"datum.value==1?'10⁰':'10⁻¹'","tickCount":200,"labelOverlap":false,"ticks":false,"domain":false,"grid":false,"labelPadding":12,"titlePadding":6}}}}
 ],
 "resolve":{"scale":{"y":"independent"}}}
],"columns":4,"spacing":0,"bounds":"flush","align":"none"},
{"concat":[
{"width":91,"height":22,"data":{"values":[]},"mark":"point"},
{"width":117,"height":22,"data":{"values":[]},"mark":"point","title":{"text":"UNCONSTRAINED","fontSize":13,"frame":"group","dy":24,"offset":0,"baseline":"alphabetic"}},
{"width":82,"height":1,"data":{"values":[]},"mark":"point"},
{"width":116,"height":22,"data":{"values":[]},"mark":"point","title":{"text":"CONSTRAINED","fontSize":13,"frame":"group","dy":24,"offset":0,"baseline":"alphabetic"}},
{"width":91,"height":185,"data":{"values":[]},"mark":"point","title":{"text":"c)","anchor":"start","frame":"group","dx":-3,"dy":38,"offset":0,"baseline":"alphabetic"}},
{"width":117,"height":185,"view":{"stroke":"#111","strokeWidth":1.5},
 "layer":[
  {"data":{"name":"cU"},"mark":{"type":"rect","strokeWidth":0.7},"encoding":{
   "x":{"field":"v0","type":"quantitative","scale":{"domain":[120,3500],"nice":false,"zero":false},"axis":{"title":"Vs (m/s)","values":[500,1000,1500,2000,2500,3000,3500],"labelExpr":"datum.value==1500||datum.value==3000?datum.label:''","format":"d","tickCount":200,"labelOverlap":false,"tickWidth":2.5,"tickSize":8,"labelPadding":10,"domain":false,"titlePadding":2}},
   "x2":{"field":"v1"},
   "y":{"field":"d0","type":"quantitative","scale":{"domain":[0,350],"reverse":true,"nice":false,"zero":false},"axis":{"title":"Depth (m)","values":[0,10,20,30,40,50,60,70,80,90,100,110,120,130,140,150,160,170,180,190,200,210,220,230,240,250,260,270,280,290,300,310,320,330,340,350],"labelExpr":"datum.value%100==0?datum.label:''","format":"d","tickCount":200,"labelOverlap":false,"tickWidth":2,"tickSize":{"condition":{"test":"datum.value%100==0","value":14},"value":7},"labelPadding":5,"domain":false,"titlePadding":3,"labelFontSize":17}},
   "y2":{"field":"d1"},
   "color":{"field":"m","type":"quantitative","legend":null,"scale":{"type":"log","domain":[0.257,0.374,0.486,0.583,0.77,1.1,1.32,1.56,1.88,2.65],"range":["#d42020","#ef8a2a","#e6dc2e","#b0d23a","#22a030","#2fa2e6","#3a66c8","#121268","#7c2a90","#e0227f"],"interpolate":"rgb"}},
   "stroke":{"field":"m","type":"quantitative","legend":null,"scale":{"type":"log","domain":[0.257,0.374,0.486,0.583,0.77,1.1,1.32,1.56,1.88,2.65],"range":["#d42020","#ef8a2a","#e6dc2e","#b0d23a","#22a030","#2fa2e6","#3a66c8","#121268","#7c2a90","#e0227f"],"interpolate":"rgb"}}}},
  {"data":{"name":"ref"},"mark":{"type":"line","color":"#111","strokeWidth":1.5},"encoding":{"x":{"field":"v","type":"quantitative"},"y":{"field":"d","type":"quantitative"},"detail":{"field":"g","type":"nominal"},"order":{"field":"i","type":"quantitative"}}}
 ]},
{"width":82,"height":1,"data":{"values":[]},"mark":"point"},
{"width":116,"height":185,"view":{"stroke":"#111","strokeWidth":1.5},
 "layer":[
  {"data":{"name":"cC"},"mark":{"type":"rect","strokeWidth":0.7},"encoding":{
   "x":{"field":"v0","type":"quantitative","scale":{"domain":[120,3500],"nice":false,"zero":false},"axis":{"title":"Vs (m/s)","values":[500,1000,1500,2000,2500,3000,3500],"labelExpr":"datum.value==1500||datum.value==3000?datum.label:''","format":"d","tickCount":200,"labelOverlap":false,"tickWidth":2.5,"tickSize":8,"labelPadding":10,"domain":false,"titlePadding":2}},
   "x2":{"field":"v1"},
   "y":{"field":"d0","type":"quantitative","scale":{"domain":[0,350],"reverse":true,"nice":false,"zero":false},"axis":{"title":"Depth (m)","values":[0,10,20,30,40,50,60,70,80,90,100,110,120,130,140,150,160,170,180,190,200,210,220,230,240,250,260,270,280,290,300,310,320,330,340,350],"labelExpr":"datum.value%100==0?datum.label:''","format":"d","tickCount":200,"labelOverlap":false,"tickWidth":2,"tickSize":{"condition":{"test":"datum.value%100==0","value":14},"value":7},"labelPadding":5,"domain":false,"titlePadding":3,"labelFontSize":17}},
   "y2":{"field":"d1"},
   "color":{"field":"m","type":"quantitative","legend":null,"scale":{"type":"log","domain":[0.257,0.374,0.486,0.583,0.77,1.1,1.32,1.56,1.88,2.65],"range":["#d42020","#ef8a2a","#e6dc2e","#b0d23a","#22a030","#2fa2e6","#3a66c8","#121268","#7c2a90","#e0227f"],"interpolate":"rgb"}},
   "stroke":{"field":"m","type":"quantitative","legend":null,"scale":{"type":"log","domain":[0.257,0.374,0.486,0.583,0.77,1.1,1.32,1.56,1.88,2.65],"range":["#d42020","#ef8a2a","#e6dc2e","#b0d23a","#22a030","#2fa2e6","#3a66c8","#121268","#7c2a90","#e0227f"],"interpolate":"rgb"}}}},
  {"data":{"name":"ref"},"mark":{"type":"line","color":"#111","strokeWidth":1.5},"encoding":{"x":{"field":"v","type":"quantitative"},"y":{"field":"d","type":"quantitative"},"detail":{"field":"g","type":"nominal"},"order":{"field":"i","type":"quantitative"}}}
 ]},
{"width":91,"height":60,"data":{"values":[]},"mark":"point"},
{"width":117,"height":1,"data":{"values":[]},"mark":"point"},
{"width":82,"height":1,"data":{"values":[]},"mark":"point"},
{"width":116,"height":1,"data":{"values":[]},"mark":"point"},
{"width":91,"height":1,"data":{"values":[]},"mark":"point"},
{"width":117,"height":17,"data":{"values":[{"lo":0.257,"hi":2.65}]},
 "mark":{"type":"rect","color":{"gradient":"linear","x1":0,"x2":1,"y1":0,"y2":0,"stops":[{"offset":0,"color":"#d42020"},{"offset":0.161,"color":"#ef8a2a"},{"offset":0.273,"color":"#e6dc2e"},{"offset":0.351,"color":"#b0d23a"},{"offset":0.47,"color":"#22a030"},{"offset":0.623,"color":"#2fa2e6"},{"offset":0.701,"color":"#3a66c8"},{"offset":0.773,"color":"#121268"},{"offset":0.853,"color":"#7c2a90"},{"offset":1,"color":"#e0227f"}]}},
 "encoding":{"x":{"field":"lo","type":"quantitative","scale":{"type":"log","domain":[0.257,2.65],"range":[5,316],"nice":false},"axis":{"title":"Misfit value","values":[0.3,0.4,0.5,0.6,0.7,0.8,0.9,1,2],"labelExpr":"datum.value==0.5||datum.value==1?datum.label:''","format":"~g","tickCount":200,"labelOverlap":false,"domain":false,"tickWidth":3,"tickSize":{"condition":{"test":"datum.value==0.5||datum.value==1","value":12},"value":7},"labelPadding":6,"titleX":1,"titleY":25,"titleAlign":"right","titleBaseline":"alphabetic"}},"x2":{"field":"hi"}}},
{"width":1,"height":1,"data":{"values":[]},"mark":"point"},
{"width":1,"height":1,"data":{"values":[]},"mark":"point"},
{"width":91,"height":52,"data":{"values":[]},"mark":"point"},
{"width":117,"height":1,"data":{"values":[]},"mark":"point"},
{"width":82,"height":1,"data":{"values":[]},"mark":"point"},
{"width":116,"height":1,"data":{"values":[]},"mark":"point"},
{"width":91,"height":22,"data":{"values":[]},"mark":"point"},
{"width":117,"height":22,"data":{"values":[]},"mark":"point","title":{"text":"UNCONSTRAINED","fontSize":13,"frame":"group","dy":24,"offset":0,"baseline":"alphabetic"}},
{"width":83,"height":1,"data":{"values":[]},"mark":"point"},
{"width":116,"height":22,"data":{"values":[]},"mark":"point","title":{"text":"CONSTRAINED","fontSize":13,"frame":"group","dy":24,"offset":0,"baseline":"alphabetic"}},
{"width":91,"height":186,"data":{"values":[]},"mark":"point","title":{"text":"f)","anchor":"start","frame":"group","dx":-7,"dy":36,"offset":0,"baseline":"alphabetic"}},
{"width":117,"height":186,"view":{"stroke":"#111","strokeWidth":1.5},
 "layer":[
  {"data":{"name":"fU"},"mark":{"type":"rect","strokeWidth":0.7},"encoding":{
   "x":{"field":"v0","type":"quantitative","scale":{"domain":[110,2000],"nice":false,"zero":false},"axis":{"title":"Vs (m/s)","values":[200,400,600,800,1000,1200,1400,1600,1800,2000],"labelExpr":"datum.value==1000||datum.value==2000?datum.label:''","format":"d","tickCount":200,"labelOverlap":false,"tickWidth":2.5,"tickSize":8,"labelPadding":10,"domain":false,"titlePadding":2}},
   "x2":{"field":"v1"},
   "y":{"field":"d0","type":"quantitative","scale":{"domain":[0,200],"reverse":true,"nice":false,"zero":false},"axis":{"title":"Depth (m)","values":[0,5,10,15,20,25,30,35,40,45,50,55,60,65,70,75,80,85,90,95,100,105,110,115,120,125,130,135,140,145,150,155,160,165,170,175,180,185,190,195,200],"labelExpr":"datum.value%40==0?datum.label:''","format":"d","tickCount":200,"labelOverlap":false,"tickWidth":2,"tickSize":{"condition":{"test":"datum.value%40==0","value":14},"value":7},"labelPadding":5,"domain":false,"titlePadding":3,"labelFontSize":17}},
   "y2":{"field":"d1"},
   "color":{"field":"m","type":"quantitative","legend":null,"scale":{"type":"log","domain":[0.0862,0.1158,0.1415,0.164,0.2047,0.27,0.313,0.356,0.412,0.546],"range":["#d42020","#ef8a2a","#e6dc2e","#b0d23a","#22a030","#2fa2e6","#3a66c8","#121268","#7c2a90","#e0227f"],"interpolate":"rgb"}},
   "stroke":{"field":"m","type":"quantitative","legend":null,"scale":{"type":"log","domain":[0.0862,0.1158,0.1415,0.164,0.2047,0.27,0.313,0.356,0.412,0.546],"range":["#d42020","#ef8a2a","#e6dc2e","#b0d23a","#22a030","#2fa2e6","#3a66c8","#121268","#7c2a90","#e0227f"],"interpolate":"rgb"}}}},
  {"data":{"values":[{"d":114}]},"mark":{"type":"rule","color":"#111","strokeWidth":1.5},"encoding":{"y":{"field":"d","type":"quantitative"}}}
 ]},
{"width":83,"height":1,"data":{"values":[]},"mark":"point"},
{"width":116,"height":186,"view":{"stroke":"#111","strokeWidth":1.5},
 "layer":[
  {"data":{"name":"fC"},"mark":{"type":"rect","strokeWidth":0.7},"encoding":{
   "x":{"field":"v0","type":"quantitative","scale":{"domain":[110,2000],"nice":false,"zero":false},"axis":{"title":"Vs (m/s)","values":[200,400,600,800,1000,1200,1400,1600,1800,2000],"labelExpr":"datum.value==1000||datum.value==2000?datum.label:''","format":"d","tickCount":200,"labelOverlap":false,"tickWidth":2.5,"tickSize":8,"labelPadding":10,"domain":false,"titlePadding":2}},
   "x2":{"field":"v1"},
   "y":{"field":"d0","type":"quantitative","scale":{"domain":[0,200],"reverse":true,"nice":false,"zero":false},"axis":{"title":"Depth (m)","values":[0,5,10,15,20,25,30,35,40,45,50,55,60,65,70,75,80,85,90,95,100,105,110,115,120,125,130,135,140,145,150,155,160,165,170,175,180,185,190,195,200],"labelExpr":"datum.value%40==0?datum.label:''","format":"d","tickCount":200,"labelOverlap":false,"tickWidth":2,"tickSize":{"condition":{"test":"datum.value%40==0","value":14},"value":7},"labelPadding":5,"domain":false,"titlePadding":3,"labelFontSize":17}},
   "y2":{"field":"d1"},
   "color":{"field":"m","type":"quantitative","legend":null,"scale":{"type":"log","domain":[0.0862,0.1158,0.1415,0.164,0.2047,0.27,0.313,0.356,0.412,0.546],"range":["#d42020","#ef8a2a","#e6dc2e","#b0d23a","#22a030","#2fa2e6","#3a66c8","#121268","#7c2a90","#e0227f"],"interpolate":"rgb"}},
   "stroke":{"field":"m","type":"quantitative","legend":null,"scale":{"type":"log","domain":[0.0862,0.1158,0.1415,0.164,0.2047,0.27,0.313,0.356,0.412,0.546],"range":["#d42020","#ef8a2a","#e6dc2e","#b0d23a","#22a030","#2fa2e6","#3a66c8","#121268","#7c2a90","#e0227f"],"interpolate":"rgb"}}}},
  {"data":{"values":[{"d":114}]},"mark":{"type":"rule","color":"#111","strokeWidth":1.5},"encoding":{"y":{"field":"d","type":"quantitative"}}}
 ]},
{"width":91,"height":57,"data":{"values":[]},"mark":"point"},
{"width":117,"height":1,"data":{"values":[]},"mark":"point"},
{"width":83,"height":1,"data":{"values":[]},"mark":"point"},
{"width":116,"height":1,"data":{"values":[]},"mark":"point"},
{"width":91,"height":1,"data":{"values":[]},"mark":"point"},
{"width":117,"height":17,"data":{"values":[{"lo":0.0862,"hi":0.546}]},
 "mark":{"type":"rect","color":{"gradient":"linear","x1":0,"x2":1,"y1":0,"y2":0,"stops":[{"offset":0,"color":"#d42020"},{"offset":0.16,"color":"#ef8a2a"},{"offset":0.269,"color":"#e6dc2e"},{"offset":0.349,"color":"#b0d23a"},{"offset":0.469,"color":"#22a030"},{"offset":0.618,"color":"#2fa2e6"},{"offset":0.699,"color":"#3a66c8"},{"offset":0.768,"color":"#121268"},{"offset":0.847,"color":"#7c2a90"},{"offset":1,"color":"#e0227f"}]}},
 "encoding":{"x":{"field":"lo","type":"quantitative","scale":{"type":"log","domain":[0.0862,0.546],"range":[5,316],"nice":false},"axis":{"title":"Misfit value","values":[0.09,0.1,0.2,0.3,0.4,0.5],"labelExpr":"datum.value==0.1||datum.value==0.2||datum.value==0.4?datum.label:''","format":"~g","tickCount":200,"labelOverlap":false,"domain":false,"tickWidth":3,"tickSize":{"condition":{"test":"datum.value==0.1||datum.value==0.2||datum.value==0.4","value":12},"value":7},"labelPadding":6,"titleX":1,"titleY":27,"titleAlign":"right","titleBaseline":"alphabetic"}},"x2":{"field":"hi"}}},
{"width":1,"height":1,"data":{"values":[]},"mark":"point"},
{"width":1,"height":1,"data":{"values":[]},"mark":"point"}
],"columns":4,"spacing":0,"bounds":"flush","align":"none","resolve":{"scale":{"color":"independent","stroke":"independent"}}}
],
"spacing":16,
"resolve":{"scale":{"color":"independent","stroke":"independent"}}
}
